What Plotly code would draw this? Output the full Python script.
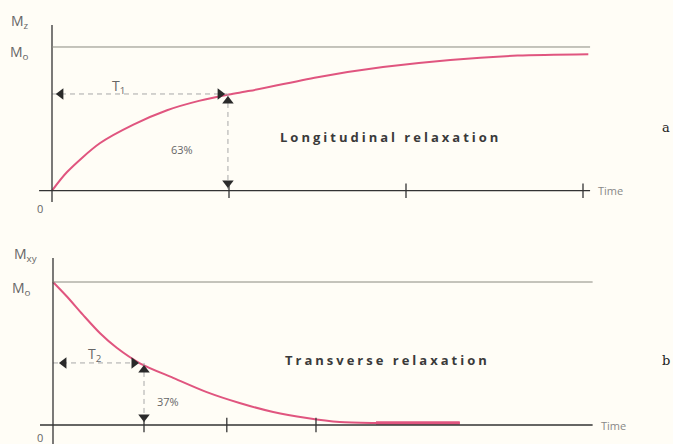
import plotly.graph_objects as go

# ---- data ----
# (a) longitudinal relaxation: time in units of T1, Mz as fraction of M0
t1_time = [0, 0.085, 0.27, 0.46, 0.65, 0.83, 1.0, 1.12, 1.50, 1.87, 2.25, 2.63, 3.03]
mz_frac = [0, 0.13, 0.33, 0.46, 0.56, 0.625, 0.67, 0.695, 0.79, 0.86, 0.91, 0.94, 0.95]
top_ticks = [1, 2, 3]

# (b) transverse relaxation: time in units of T2, Mxy as fraction of M0
t2_time = [0, 0.15, 0.33, 0.52, 0.70, 0.96, 1.32, 1.69, 2.05, 2.42, 2.79, 3.15, 3.52, 4.47]
mxy_frac = [1.0, 0.90, 0.77, 0.64, 0.54, 0.43, 0.33, 0.23, 0.154, 0.091, 0.049, 0.021, 0.014, 0.014]
tail_time = [3.55, 4.47]
tail_frac = [0.014, 0.014]
bot_ticks = [1, 1.91, 2.89]

t1_level = 0.673   # 63% marker level as drawn
t2_level = 0.434   # 37% marker level as drawn

PINK = "#e0557f"
AX = "#333333"
GRID = "#8a8a80"
DASH = "#a8a8a8"
TXT = "#666666"
BG = "#fffdf6"
FONT = "Open Sans"

fig = go.Figure()

# curves
fig.add_trace(go.Scatter(x=t1_time, y=mz_frac, mode="lines", line=dict(color=PINK, width=2, shape="spline", smoothing=0.8),
                         xaxis="x", yaxis="y", hoverinfo="skip"))
fig.add_trace(go.Scatter(x=t2_time, y=mxy_frac, mode="lines", line=dict(color=PINK, width=2, shape="spline", smoothing=0.8),
                         xaxis="x2", yaxis="y2", hoverinfo="skip"))
fig.add_trace(go.Scatter(x=tail_time, y=tail_frac, mode="lines", line=dict(color=PINK, width=3.5),
                         xaxis="x2", yaxis="y2", hoverinfo="skip"))

# dashed guide lines
fig.add_trace(go.Scatter(x=[0, 0.99], y=[t1_level, t1_level], mode="lines",
                         line=dict(color=DASH, width=1, dash="5px,4px"), xaxis="x", yaxis="y"))
fig.add_trace(go.Scatter(x=[0.994, 0.994], y=[t1_level, 0], mode="lines",
                         line=dict(color=DASH, width=1, dash="5px,4px"), xaxis="x", yaxis="y"))
fig.add_trace(go.Scatter(x=[0, 0.96], y=[t2_level, t2_level], mode="lines",
                         line=dict(color=DASH, width=1, dash="5px,4px"), xaxis="x2", yaxis="y2"))
fig.add_trace(go.Scatter(x=[1.0, 1.0], y=[t2_level, 0], mode="lines",
                         line=dict(color=DASH, width=1, dash="5px,4px"), xaxis="x2", yaxis="y2"))

# arrowheads
fig.add_trace(go.Scatter(x=[0.05, 0.95, 0.994, 0.994], y=[t1_level, t1_level, 0.624, 0.054], mode="markers",
                         marker=dict(symbol=["triangle-left", "triangle-right", "triangle-up", "triangle-down"],
                                     size=10, color="#2a2a2a"), xaxis="x", yaxis="y"))
fig.add_trace(go.Scatter(x=[0.12, 0.89, 1.0, 1.0], y=[t2_level, t2_level, 0.385, 0.056], mode="markers",
                         marker=dict(symbol=["triangle-left", "triangle-right", "triangle-up", "triangle-down"],
                                     size=10, color="#2a2a2a"), xaxis="x2", yaxis="y2"))

shapes = []
# top panel axes
shapes.append(dict(type="line", xref="x", yref="y", x0=-0.073, x1=3.04, y0=0, y1=0, line=dict(color=AX, width=1.3)))
shapes.append(dict(type="line", xref="x", yref="y", x0=0, x1=0, y0=-0.079, y1=1.153, line=dict(color=AX, width=1.3)))
shapes.append(dict(type="line", xref="x", yref="y", x0=0, x1=3.04, y0=1, y1=1, line=dict(color=GRID, width=1)))
for t in top_ticks:
    shapes.append(dict(type="line", xref="x", yref="y", x0=t, x1=t, y0=-0.05, y1=0.05, line=dict(color=AX, width=1.3)))
# bottom panel axes
shapes.append(dict(type="line", xref="x2", yref="y2", x0=-0.143, x1=5.93, y0=0, y1=0, line=dict(color=AX, width=1.3)))
shapes.append(dict(type="line", xref="x2", yref="y2", x0=0, x1=0, y0=-0.14, y1=1.168, line=dict(color=AX, width=1.3)))
shapes.append(dict(type="line", xref="x2", yref="y2", x0=0, x1=5.93, y0=1, y1=1, line=dict(color=GRID, width=1)))
for t in bot_ticks:
    shapes.append(dict(type="line", xref="x2", yref="y2", x0=t, x1=t, y0=-0.05, y1=0.05, line=dict(color=AX, width=1.3)))

def ann(text, x, y, xref, yref, size=12, color=TXT, xanchor="center", family=FONT):
    return dict(text=text, x=x, y=y, xref=xref, yref=yref, showarrow=False, xanchor=xanchor,
                yanchor="middle", font=dict(size=size, color=color, family=family))

title_style = '<span style="letter-spacing:3px"><b>%s</b></span>'

anns = [
    ann("M<sub>z</sub>", -0.181, 1.174, "x", "y", size=14),
    ann("M<sub>o</sub>", -0.181, 0.965, "x", "y", size=14),
    ann("0", -0.068, -0.127, "x", "y", size=11),
    ann("T<sub>1</sub>", 0.373, 0.722, "x", "y", size=14),
    ann("63%", 0.734, 0.29, "x", "y", size=11),
    ann("Time", 3.075, 0, "x", "y", size=11, color="#888", xanchor="left"),
    ann(title_style % "Longitudinal relaxation", 1.91, 0.374, "x", "y", size=13, color="#3a3a3a"),
    ann("M<sub>xy</sub>", -0.30, 1.189, "x2", "y2", size=14),
    ann("M<sub>o</sub>", -0.341, 0.958, "x2", "y2", size=14),
    ann("0", -0.143, -0.085, "x2", "y2", size=11),
    ann("T<sub>2</sub>", 0.462, 0.49, "x2", "y2", size=14),
    ann("37%", 1.264, 0.161, "x2", "y2", size=11),
    ann("Time", 6.0, 0, "x2", "y2", size=11, color="#888", xanchor="left"),
    ann(title_style % "Transverse relaxation", 3.68, 0.455, "x2", "y2", size=13, color="#3a3a3a"),
    ann("a", 0.99, 0.712, "paper", "paper", size=13, color="#222", family="DejaVu Serif"),
    ann("b", 0.99, 0.189, "paper", "paper", size=13, color="#222", family="DejaVu Serif"),
]

fig.update_layout(
    width=673, height=444, margin=dict(l=0, r=0, t=0, b=0),
    paper_bgcolor=BG, plot_bgcolor=BG, showlegend=False,
    xaxis=dict(domain=[0, 1], range=[-52 / 177, 621 / 177], visible=False, anchor="y"),
    yaxis=dict(domain=[0.5, 1], range=[-0.2178, 1.327], visible=False, anchor="x"),
    xaxis2=dict(domain=[0, 1], range=[-53 / 91, 620 / 91], visible=False, anchor="y2"),
    yaxis2=dict(domain=[0, 0.5], range=[-0.1329, 1.4196], visible=False, anchor="x2"),
    shapes=shapes, annotations=anns,
)

fig.write_html("out.html", config={"displayModeBar": False},
               post_script="document.body.style.margin='0';document.body.style.overflow='hidden';")
